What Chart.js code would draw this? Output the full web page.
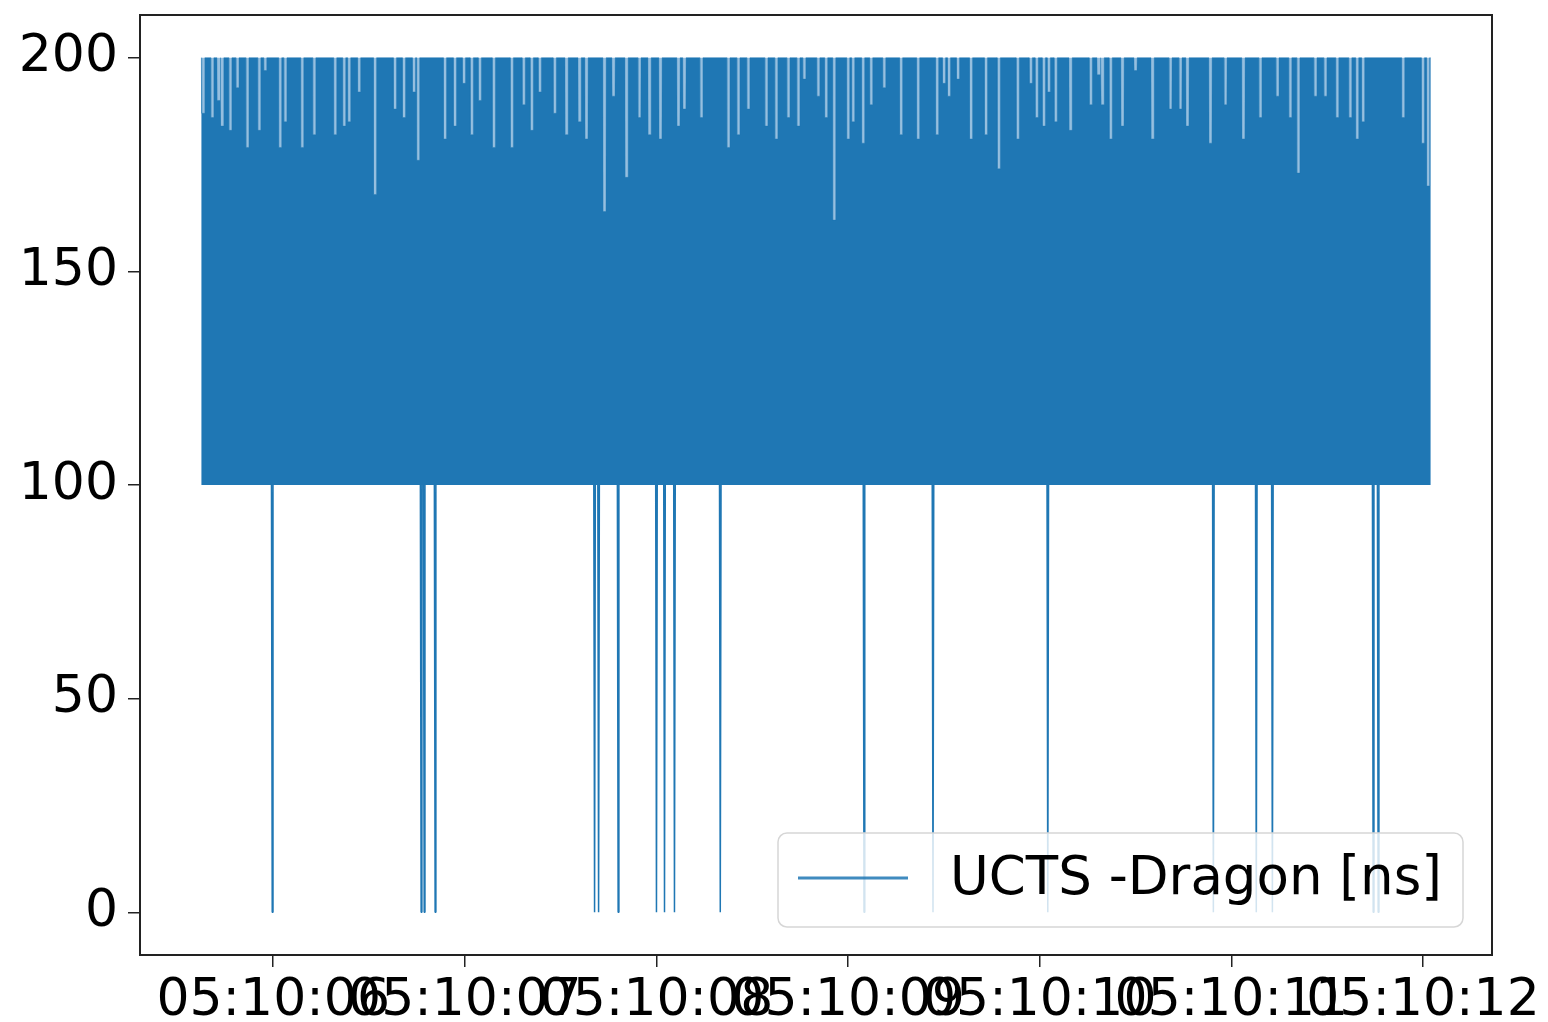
<!DOCTYPE html>
<html>
<head>
<meta charset="utf-8">
<script src="https://cdn.jsdelivr.net/npm/chart.js@4.4.0/dist/chart.umd.min.js"></script>
<style>
    body { margin: 0; background: #fff; }
</style>
</head>
<body>
<canvas id="uctsChart" width="1548" height="1022"></canvas>
<script>
// time is in seconds after 05:10:00
const xTicks = [6, 7, 8, 9, 10, 11, 12];
const xTickLabels = ['05:10:06', '05:10:07', '05:10:08', '05:10:09', '05:10:10', '05:10:11', '05:10:12'];
const yTicks = [0, 50, 100, 150, 200];

// first / last event, and the band the values jump between
const bandTimes = [5.625, 12.04];
const bandLevels = [100, 200];

// places where the top of the band does not reach 200 (light streaks)
const notchTimes = [5.635, 5.682, 5.715, 5.734, 5.776, 5.813, 5.865, 5.927, 5.958, 6.036,
    6.063, 6.151, 6.214, 6.323, 6.370, 6.396, 6.448, 6.531, 6.635, 6.682,
    6.734, 6.756, 6.896, 6.948, 6.995, 7.036, 7.078, 7.151, 7.245, 7.307,
    7.349, 7.391, 7.469, 7.531, 7.599, 7.635, 7.729, 7.776, 7.844, 7.911,
    7.964, 8.021, 8.115, 8.146, 8.234, 8.375, 8.427, 8.479, 8.573, 8.625,
    8.688, 8.740, 8.771, 8.844, 8.885, 8.927, 9.000, 9.026, 9.078, 9.120,
    9.188, 9.276, 9.365, 9.464, 9.500, 9.526, 9.573, 9.641, 9.719, 9.786,
    9.885, 9.953, 9.984, 10.021, 10.047, 10.083, 10.161, 10.266, 10.307, 10.328,
    10.370, 10.432, 10.500, 10.589, 10.682, 10.734, 10.771, 10.891, 10.969, 11.063,
    11.151, 11.240, 11.307, 11.349, 11.438, 11.490, 11.552, 11.620, 11.656, 11.687,
    11.896, 11.999, 12.026];
const notchValues = [187, 186, 190, 184, 183, 193, 179, 183, 197, 179,
    185, 179, 182, 182, 184, 185, 192, 168, 188, 186,
    192, 176, 181, 184, 194, 182, 190, 179, 179, 189,
    183, 192, 187, 182, 185, 181, 164, 191, 172, 186,
    182, 181, 184, 188, 186, 179, 182, 188, 184, 181,
    186, 184, 195, 191, 186, 162, 181, 185, 180, 189,
    193, 182, 181, 182, 194, 191, 195, 181, 182, 174,
    181, 194, 186, 184, 192, 185, 183, 189, 196, 189,
    181, 184, 197, 181, 188, 188, 184, 180, 189, 181,
    186, 191, 186, 173, 191, 191, 186, 186, 181, 185,
    186, 180, 170];

// drops down to 0 from the bottom of the band
const dipTimes = [5.995, 6.772, 6.788, 6.845, 7.677, 7.698, 7.800, 8.000, 8.042, 8.094,
    8.333, 9.083, 9.443, 10.042, 10.906, 11.130, 11.214, 11.740, 11.766];
const dipValues = [0, 0, 0, 0, 0, 0, 0, 0, 0, 0,
    0, 0, 0, 0, 0, 0, 0, 0, 0];

const lineBlue = '#1f77b4';
const streakBlue = 'rgb(150,191,223)';
const fontFamily = "'DejaVu Sans', sans-serif";

const top200 = bandLevels[1];
const floor100 = bandLevels[0];

// top edge of the band, with a flat-bottomed streak for every notch
let series = [{ x: bandTimes[0], y: top200 }];
for (let i = 0; i < notchTimes.length; i++) {
    const t = notchTimes[i];
    series.push({ x: t - 0.0085, y: top200 });
    series.push({ x: t - 0.0075, y: notchValues[i] });
    series.push({ x: t + 0.0075, y: notchValues[i] });
    series.push({ x: t + 0.0085, y: top200 });
}
series.push({ x: bandTimes[1], y: top200 });

// each dip leaves the band floor, hits its value and comes back
let dips = [];
for (let i = 0; i < dipTimes.length; i++) {
    const t = dipTimes[i];
    dips.push({ x: t - 0.004, y: floor100 });
    dips.push({ x: t, y: dipValues[i] });
    dips.push({ x: t + 0.004, y: floor100 });
    dips.push({ x: t + 0.005, y: null });
}

const underlay = bandTimes.map(t => ({ x: t, y: top200 }));

const frame = {
    id: 'frame',
    afterDatasetsDraw: (chart) => {
        const c = chart.ctx;
        const { left, top, width, height } = chart.chartArea;
        c.save();
        c.strokeStyle = '#222';
        c.lineWidth = 2;
        c.strokeRect(left, top, width, height);
        c.restore();
    }
};

const legendBox = {
    id: 'legendBox',
    afterDraw: (chart) => {
        const c = chart.ctx;
        const { right, bottom } = chart.chartArea;
        const w = 685, h = 94;
        const x = right - 29 - w;
        const y = bottom - 28 - h;
        c.save();
        c.beginPath();
        c.roundRect(x, y, w, h, 9);
        c.fillStyle = 'rgba(255,255,255,0.8)';
        c.fill();
        c.strokeStyle = '#d6d6d6';
        c.lineWidth = 1.5;
        c.stroke();
        c.beginPath();
        c.moveTo(x + 20, y + 45);
        c.lineTo(x + 130, y + 45);
        c.strokeStyle = lineBlue;
        c.globalAlpha = 0.85;
        c.lineWidth = 3;
        c.stroke();
        c.globalAlpha = 1;
        c.fillStyle = '#000';
        c.font = '53px ' + fontFamily;
        c.textBaseline = 'middle';
        c.fillText('UCTS -Dragon [ns]', x + 172, y + 47);
        c.restore();
    }
};

const config = {
    type: 'line',
    data: {
        datasets: [{
            label: 'UCTS -Dragon [ns]',
            data: series,
            borderColor: lineBlue,
            backgroundColor: lineBlue,
            borderWidth: 0.4,
            fill: { value: floor100 },
            pointRadius: 0,
            tension: 0,
            order: 1
        }, {
            label: 'UCTS -Dragon [ns] dips',
            data: dips,
            borderColor: lineBlue,
            borderWidth: 1.5,
            borderJoinStyle: 'bevel',
            fill: false,
            spanGaps: false,
            pointRadius: 0,
            tension: 0,
            order: 0
        }, {
            label: 'band',
            data: underlay,
            borderWidth: 0,
            backgroundColor: streakBlue,
            fill: { value: floor100 },
            pointRadius: 0,
            order: 2
        }]
    },
    options: {
        responsive: false,
        animation: false,
        events: [],
        layout: { padding: { top: 15, right: 56, left: 0, bottom: 0 } },
        plugins: {
            legend: { display: false },
            tooltip: { enabled: false },
            title: { display: false }
        },
        scales: {
            x: {
                type: 'linear',
                min: 5.305,
                max: 12.36,
                afterBuildTicks: (s) => { s.ticks = xTicks.map(v => ({ value: v })); },
                afterFit: (s) => { s.height = 67; s.paddingLeft = 0; s.paddingRight = 0; },
                ticks: {
                    autoSkip: false,
                    maxRotation: 0,
                    minRotation: 0,
                    padding: 3,
                    color: '#000',
                    font: { family: fontFamily, size: 52 },
                    callback: (value) => xTickLabels[xTicks.indexOf(value)]
                },
                grid: { drawOnChartArea: false, drawTicks: true, tickLength: 12, color: '#222', lineWidth: 1.5 },
                border: { display: false }
            },
            y: {
                min: -10,
                max: 210,
                afterBuildTicks: (s) => { s.ticks = yTicks.map(v => ({ value: v })); },
                afterFit: (s) => { s.width = 140; s.paddingTop = 0; s.paddingBottom = 0; },
                ticks: {
                    padding: 10,
                    color: '#000',
                    font: { family: fontFamily, size: 52 }
                },
                grid: { drawOnChartArea: false, drawTicks: true, tickLength: 12, color: '#222', lineWidth: 1.5 },
                border: { display: false }
            }
        }
    },
    plugins: [frame, legendBox]
};

const uctsChart = new Chart(document.getElementById('uctsChart').getContext('2d'), config);
</script>
</body>
</html>
